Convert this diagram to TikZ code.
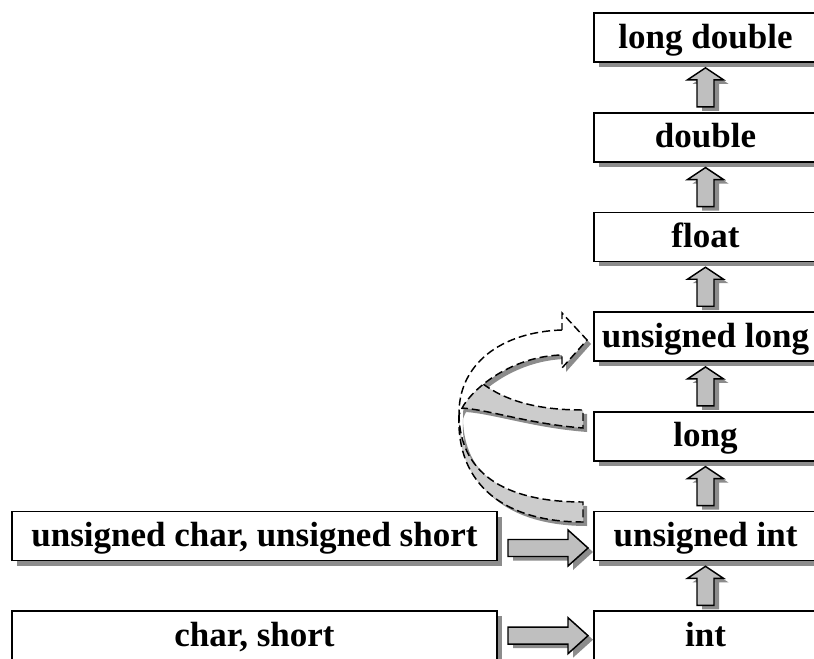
\documentclass[tikz,border=0pt]{standalone}
\usepackage{fontspec}
\setmainfont{Liberation Serif}
\usetikzlibrary{calc,shadows}

\definecolor{shadowgray}{gray}{0.55}
\definecolor{arrowgray}{gray}{0.75}
\definecolor{bandgray}{gray}{0.8}

\tikzset{
  typebox/.style={draw=black, line width=1.3pt, fill=white, inner sep=0pt,
    minimum height=36.75pt,
    font=\fontsize{26.25}{30}\selectfont\bfseries,
    text height=19.7pt, text depth=3.9pt,
    drop shadow={shadow xshift=3.75pt, shadow yshift=-3.75pt, fill=shadowgray, opacity=1}},
  rightbox/.style={typebox, minimum width=167.25pt},
  leftbox/.style={typebox, minimum width=363.75pt},
  blockarrow/.style={draw=black, line width=1.1pt, line join=miter, fill=arrowgray,
    preaction={fill=shadowgray, transform canvas={shift={(3.75pt,-3pt)}}}},
  ribbon/.style={draw=black, line width=1.1pt, dash pattern=on 6pt off 3pt},
  ribbonshadow/.style={fill=shadowgray, shift={(4,4)}},
  % upward block arrow, 39 units long, centred on the pic origin
  uparrow/.pic={
    \path[blockarrow] (0,-19.5) -- (18,-7.5) -- (8.5,-7.5) -- (8.5,19.5)
      -- (-8.5,19.5) -- (-8.5,-7.5) -- (-18,-7.5) -- cycle;
  },
  % rightward block arrow, 80 units long, centred on the pic origin
  rightarrow/.pic={
    \path[blockarrow] (40,0) -- (20,18) -- (20,8.5) -- (-40,8.5)
      -- (-40,-8.5) -- (20,-8.5) -- (20,-18) -- cycle;
  },
}

% the curved ribbon arrows into "unsigned long"
\def\frontpath{(562,330) .. controls (500,332) and (458,365) .. (459,415)
  .. controls (466,392) and (510,356) .. (562,355) -- (562,368) -- (587,340)
  -- (562,313) -- cycle}
\def\bandApath{(459,415) .. controls (456,485) and (505,522) .. (583,522)
  -- (583,502) .. controls (500,502) and (460,470) .. (459,415) -- cycle}
\def\bandBfill{(483,384) .. controls (505,400) and (535,410) .. (583,410)
  -- (583,428) .. controls (530,424) and (490,410) .. (462,408)
  -- (468,396) -- cycle}
\def\bandBedge{(483,384) .. controls (505,400) and (535,410) .. (583,410)
  -- (583,428) .. controls (530,424) and (490,410) .. (462,408)}

\begin{document}
\begin{tikzpicture}[x=0.75pt, y=-0.75pt]
  \path[use as bounding box] (0,0) rectangle (814,659);
  \clip (0,0) rectangle (814,659);

  % right column of types
  \node[rightbox] (ld) at (705.5,37.5)  {long double};
  \node[rightbox] (db) at (705.5,137.2) {double};
  \node[rightbox] (fl) at (705.5,236.9) {float};
  \node[rightbox] (ul) at (705.5,336.6) {unsigned long};
  \node[rightbox] (lo) at (705.5,436.3) {long};
  \node[rightbox] (ui) at (705.5,536)   {unsigned int};
  \node[rightbox] (in) at (705.5,635.7) {int};

  % left column of types
  \node[leftbox] (uc) at (254.5,536)   {unsigned char, unsigned short};
  \node[leftbox] (cs) at (254.5,635.7) {char, short};

  % upward promotions
  \pic at ($(db.north)!.5!(ld.south)$) {uparrow};
  \pic at ($(fl.north)!.5!(db.south)$) {uparrow};
  \pic at ($(ul.north)!.5!(fl.south)$) {uparrow};
  \pic at ($(lo.north)!.5!(ul.south)$) {uparrow};
  \pic at ($(ui.north)!.5!(lo.south)$) {uparrow};
  \pic at ($(in.north)!.5!(ui.south)$) {uparrow};

  % small types into int / unsigned int
  \pic at ($(uc.east)!.5!(ui.west)+(2.5,12)$) {rightarrow};
  \pic at ($(cs.east)!.5!(in.west)+(2.5,0)$)  {rightarrow};

  % curved arrows: shadows first
  \fill[ribbonshadow] \bandApath;
  \fill[ribbonshadow] \bandBfill;
  \fill[ribbonshadow] \frontpath;
  % back band from unsigned int
  \path[ribbon, fill=bandgray] \bandApath;
  % back band from long
  \fill[bandgray] \bandBfill;
  \path[ribbon] \bandBedge;
  % front arrow into unsigned long
  \path[ribbon, fill=white] \frontpath;
\end{tikzpicture}
\end{document}
